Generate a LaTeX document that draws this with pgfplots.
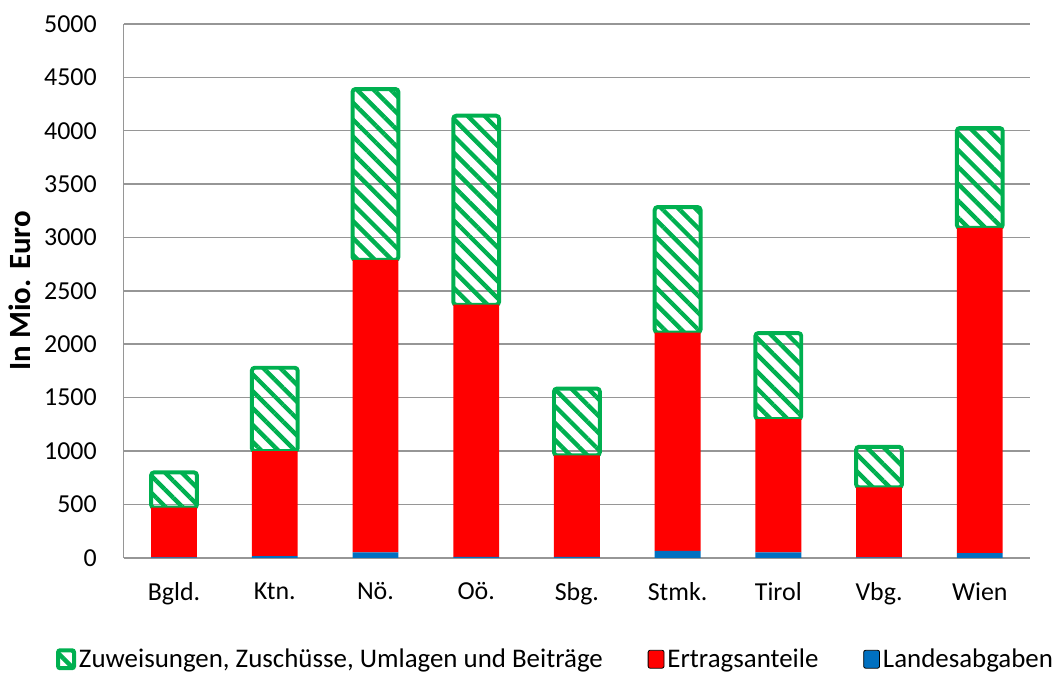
\documentclass[border=0pt]{standalone}
\usepackage{fontspec}
\setmainfont{Carlito}
\usepackage{pgfplots}
\pgfplotsset{compat=1.18}
\usetikzlibrary{patterns.meta}

\definecolor{xlgreen}{HTML}{00B050}
\definecolor{xlred}{HTML}{FF0000}
\definecolor{xlblue}{HTML}{0070C0}
\definecolor{gridgray}{HTML}{969696}

\begin{document}
\fontsize{13}{15}\selectfont
\begin{tikzpicture}
  \begin{axis}[
    ybar stacked,
    width=455pt, height=268pt,
    scale only axis,
    bar width=23pt,
    xmin=-0.5, xmax=8.5,
    ymin=0, ymax=5000,
    ytick={0,500,...,5000},
    xtick={0,...,8},
    xticklabels={Bgld., Ktn., Nö., Oö., Sbg., Stmk., Tirol, Vbg., Wien},
    /pgf/number format/assume math mode=true,
    /pgf/number format/1000 sep={},
    major tick length=0pt,
    ymajorgrids=true,
    grid style={gridgray, line width=0.8pt},
    axis line style={gridgray, line width=0.8pt},
    axis x line*=bottom,
    axis y line*=left,
    ylabel={\bfseries In Mio. Euro},
    ylabel style={font=\fontsize{15.5}{18}\selectfont, yshift=-2pt},
    yticklabel style={xshift=-9pt},
    xticklabel style={yshift=-8pt},
    legend style={
      at={(0.477,-0.155)}, anchor=north,
      draw=none, legend columns=3,
      /tikz/every even column/.append style={column sep=21pt},
      font=\fontsize{13.5}{15}\selectfont,
      nodes={inner xsep=1.5pt},
    },
    reverse legend,
    legend image code/.code={
      \draw[#1, rounded corners=1pt] (0pt,-4pt) rectangle (8pt,5pt);
    },
  ]
  \addplot[fill=xlblue, draw=none] coordinates {
    (0,5) (1,15) (2,50) (3,8) (4,8) (5,65) (6,50) (7,4) (8,45)
  };
  \addplot[fill=xlred, draw=none] coordinates {
    (0,465) (1,985) (2,2740) (3,2362) (4,952) (5,2045) (6,1250) (7,656) (8,3045)
  };
  \addplot[draw=xlgreen, line width=2pt, rounded corners=1.5pt,
    pattern={Lines[angle=-45, distance=6pt, line width=2.2pt]},
    pattern color=xlgreen] coordinates {
    (0,330) (1,780) (2,1600) (3,1770) (4,625) (5,1175) (6,805) (7,380) (8,935)
  };
  \legend{Landesabgaben, Ertragsanteile, {Zuweisungen, Zuschüsse, Umlagen und Beiträge}}
  \end{axis}
  \path (0,280pt);
\end{tikzpicture}
\end{document}
